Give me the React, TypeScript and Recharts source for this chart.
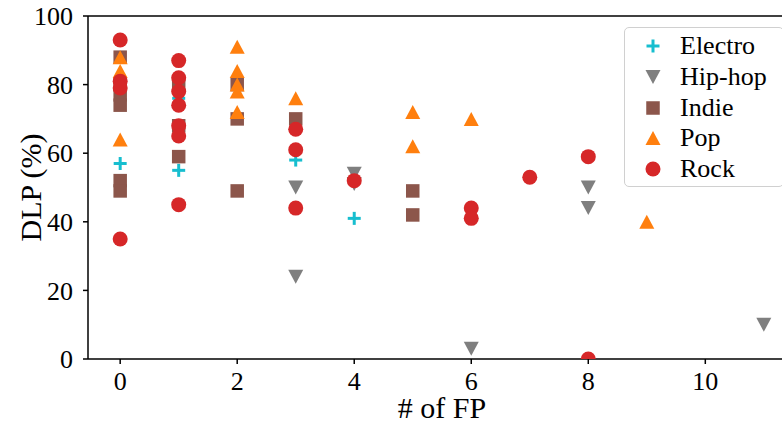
import React from 'react';
import {
  ScatterChart,
  Scatter,
  XAxis,
  YAxis,
  ReferenceLine,
  Label
} from 'recharts';

// [# of FP, DLP %]
const electro = [[0, 57], [1, 76], [1, 55], [3, 58], [4, 41]];
const hiphop = [[3, 50], [3, 24], [4, 54], [4, 51], [6, 3], [8, 50], [8, 44], [11, 10]];
const indie = [
  [0, 88], [0, 80], [0, 77], [0, 74], [0, 52], [0, 49],
  [1, 80], [1, 68], [1, 59],
  [2, 80], [2, 70], [2, 49],
  [3, 70],
  [5, 49], [5, 42]
];
const pop = [
  [0, 88], [0, 84], [0, 64],
  [2, 91], [2, 84], [2, 80], [2, 78], [2, 72],
  [3, 76],
  [5, 72], [5, 62],
  [6, 70],
  [9, 40]
];
const rock = [
  [0, 93], [0, 81], [0, 79], [0, 35],
  [1, 87], [1, 82], [1, 78], [1, 74], [1, 68], [1, 65], [1, 45],
  [3, 67], [3, 61], [3, 44],
  [4, 52],
  [6, 44], [6, 41],
  [7, 53],
  [8, 59], [8, 0]
];

const xTicks = [0, 2, 4, 6, 8, 10];
const yTicks = [0, 20, 40, 60, 80, 100];

const FONT = '"Liberation Serif", "Times New Roman", serif';

type Kind = 'plus' | 'down' | 'square' | 'up' | 'circle';

const series: { name: string; data: number[][]; color: string; kind: Kind }[] = [
  { name: 'Electro', data: electro, color: '#17becf', kind: 'plus' },
  { name: 'Hip-hop', data: hiphop, color: '#7f7f7f', kind: 'down' },
  { name: 'Indie', data: indie, color: '#8c564b', kind: 'square' },
  { name: 'Pop', data: pop, color: '#ff7f0e', kind: 'up' },
  { name: 'Rock', data: rock, color: '#d62728', kind: 'circle' }
];

function Marker({ kind, color, cx, cy }: { kind: Kind; color: string; cx: number; cy: number }) {
  switch (kind) {
    case 'circle':
      return <circle cx={cx} cy={cy} r={7.5} fill={color} />;
    case 'square':
      return <rect x={cx - 6.75} y={cy - 6.75} width={13.5} height={13.5} fill={color} />;
    case 'up':
      return <polygon points={`${cx},${cy - 7} ${cx - 7.5},${cy + 7} ${cx + 7.5},${cy + 7}`} fill={color} />;
    case 'down':
      return <polygon points={`${cx},${cy + 7} ${cx - 7.5},${cy - 7} ${cx + 7.5},${cy - 7}`} fill={color} />;
    case 'plus':
      return (
        <g stroke={color} strokeWidth={3}>
          <line x1={cx - 6.5} y1={cy} x2={cx + 6.5} y2={cy} />
          <line x1={cx} y1={cy - 6.5} x2={cx} y2={cy + 6.5} />
        </g>
      );
  }
  return null;
}

const LegendBox = () => (
  <div
    style={{
      position: 'absolute',
      left: 624,
      top: 27,
      width: 160,
      height: 160,
      border: '1.5px solid #d0d0d0',
      borderRadius: 5,
      background: 'white',
      boxSizing: 'border-box'
    }}
  >
    {series.map((s, i) => (
      <div
        key={s.name}
        style={{ position: 'absolute', left: 0, top: 3 + i * 30.8, height: 30, width: 156, display: 'flex', alignItems: 'center' }}
      >
        <svg width={55} height={30}>
          <Marker kind={s.kind} color={s.color} cx={28} cy={15} />
        </svg>
        <span style={{ fontFamily: FONT, fontSize: 26, color: '#000', lineHeight: '30px' }}>{s.name}</span>
      </div>
    ))}
  </div>
);

export default function App() {
  return (
    <div style={{ position: 'absolute', left: 0, top: 0, width: 782, height: 422, overflow: 'hidden', background: 'white' }}>
      <ScatterChart width={800} height={422} margin={{ top: 16, right: 4, bottom: 0, left: 28 }}>
        <XAxis
          type="number"
          dataKey="x"
          domain={[-0.55, 11.55]}
          ticks={xTicks}
          allowDataOverflow
          height={63}
          tickSize={5}
          tickMargin={8}
          axisLine={{ stroke: '#000', strokeWidth: 1.5 }}
          tickLine={{ stroke: '#000', strokeWidth: 1.5 }}
          tick={{ fill: '#000', fontSize: 26, fontFamily: FONT }}
        >
          <Label
            content={({ viewBox }: any) => (
              <text
                x={viewBox.x + viewBox.width / 2}
                y={418}
                textAnchor="middle"
                fontSize={30}
                fontFamily={FONT}
                fill="#000"
              >
                # of FP
              </text>
            )}
          />
        </XAxis>
        <YAxis
          type="number"
          dataKey="y"
          domain={[0, 100]}
          ticks={yTicks}
          allowDataOverflow
          width={60}
          tickSize={5}
          tickMargin={10}
          axisLine={{ stroke: '#000', strokeWidth: 1.5 }}
          tickLine={{ stroke: '#000', strokeWidth: 1.5 }}
          tick={{ fill: '#000', fontSize: 26, fontFamily: FONT }}
        >
          <Label
            content={({ viewBox }: any) => {
              const cy = viewBox.y + viewBox.height / 2;
              return (
                <text
                  x={30}
                  y={cy}
                  transform={`rotate(-90, 30, ${cy})`}
                  textAnchor="middle"
                  dominantBaseline="central"
                  fontSize={30}
                  fontFamily={FONT}
                  fill="#000"
                >
                  DLP (%)
                </text>
              );
            }}
          />
        </YAxis>
        <ReferenceLine y={100} stroke="#000" strokeWidth={1.5} />
        {series.map((s) => (
          <Scatter
            key={s.name}
            name={s.name}
            data={s.data.map(([x, y]) => ({ x, y }))}
            fill={s.color}
            isAnimationActive={false}
            shape={(p: any) => <Marker kind={s.kind} color={s.color} cx={p.cx} cy={p.cy} />}
          />
        ))}
      </ScatterChart>
      <LegendBox />
    </div>
  );
}
